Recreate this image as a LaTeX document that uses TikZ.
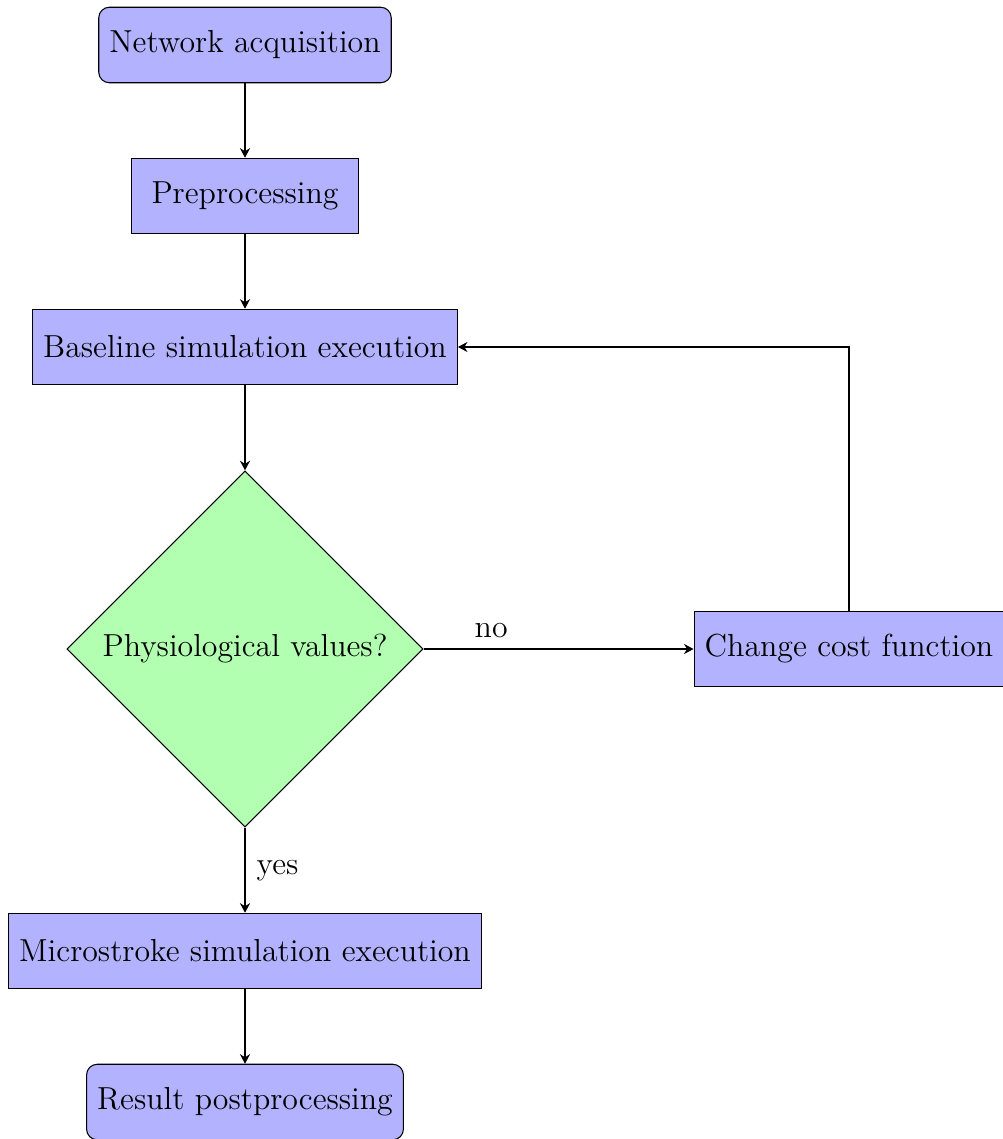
\documentclass[tikz,border=0pt,12pt]{standalone}
\usetikzlibrary{arrows.meta,shapes.geometric}
\tikzset{
    box/.style={draw, fill=blue!30, minimum height=1cm,
                minimum width=3cm, align=center},
    terminal/.style={box, rounded corners},
    choice/.style={diamond, draw, fill=green!30, align=center},
    flow/.style={-{Stealth[length=3.6pt,width=3.8pt]}, thick},
    note/.style={align=center},
}
\begin{document}
\begin{tikzpicture}

    \useasboundingbox (-3.245,0.596) rectangle (10.027,-14.49);

    \node[terminal] (acquisition) at (0,0) {Network acquisition};
    \node[box] (preprocessing) at (0,-2) {Preprocessing};
    \node[box] (baseline) at (0,-4) {Baseline simulation execution};
    \node[choice] (physiological) at (0,-8) {Physiological values?};
    \node[box] (costfunction) at (8,-8) {Change cost function};
    \node[box] (microstroke) at (0,-12) {Microstroke simulation execution};
    \node[terminal] (postprocessing) at (0,-14) {Result postprocessing};
    \draw[flow] (acquisition) -- (preprocessing);
    \draw[flow] (preprocessing) -- (baseline);
    \draw[flow] (baseline) -- (physiological);
    \draw[flow] (physiological) -- node[near start,above,note] {no} (costfunction);
    \draw[flow] (costfunction.north) |- (baseline.east);
    \draw[flow] (physiological) -- node[right,note] {yes} (microstroke);
    \draw[flow] (microstroke) -- (postprocessing);

\end{tikzpicture}
\end{document}
